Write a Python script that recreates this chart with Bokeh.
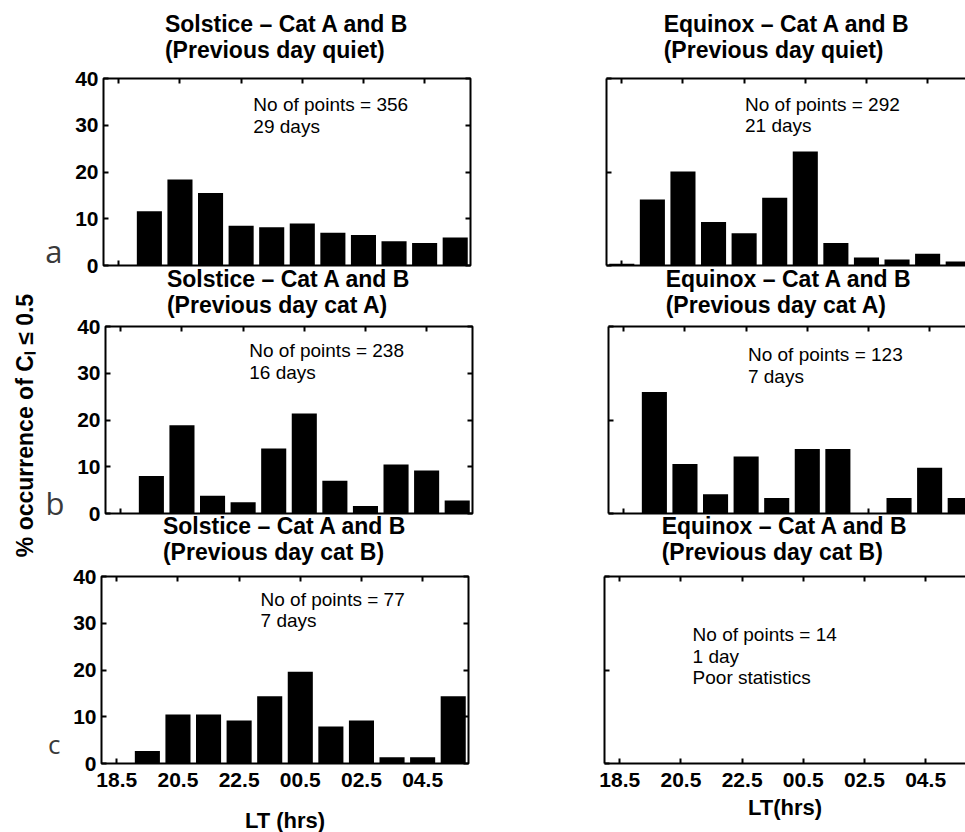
import math
from bokeh.plotting import figure
from bokeh.models import Range1d, FixedTicker, LinearAxis, Label, Title
from bokeh.layouts import row, column
from bokeh.embed import file_html
from bokeh.resources import INLINE
from bokeh.core.properties import value

# ---------------- data ----------------
lt_bins = [18.5, 19.5, 20.5, 21.5, 22.5, 23.5, 24.5, 25.5, 26.5, 27.5, 28.5, 29.5]
x_tick_values = [18.5, 20.5, 22.5, 24.5, 26.5, 28.5]
x_tick_labels = ["18.5", "20.5", "22.5", "00.5", "02.5", "04.5"]
y_tick_values = [0, 10, 20, 30, 40]

solstice_quiet = [0, 11.6, 18.4, 15.5, 8.5, 8.2, 9.0, 7.0, 6.5, 5.2, 4.8, 6.0]
solstice_cat_a = [0, 8.0, 18.9, 3.8, 2.4, 13.9, 21.4, 7.0, 1.6, 10.5, 9.2, 2.8]
solstice_cat_b = [0, 2.7, 10.5, 10.5, 9.2, 14.4, 19.6, 7.9, 9.2, 1.35, 1.35, 14.4]
equinox_quiet = [0.35, 14.1, 20.1, 9.3, 6.9, 14.5, 24.4, 4.8, 1.7, 1.3, 2.5, 0.85]
equinox_cat_a = [0, 26.0, 10.6, 4.1, 12.2, 3.3, 13.8, 13.8, 0, 3.3, 9.8, 3.3]
equinox_cat_b = [0, 0, 0, 0, 0, 0, 0, 0, 0, 0, 0, 0]

solstice_title = "Solstice \u2013 Cat A and B"
equinox_title = "Equinox \u2013 Cat A and B"
subtitles = ["(Previous day quiet)", "(Previous day cat A)", "(Previous day cat B)"]

notes_solstice = [["No of points = 356", "29 days"],
                  ["No of points = 238", "16 days"],
                  ["No of points = 77", "7 days"]]
notes_equinox = [["No of points = 292", "21 days"],
                 ["No of points = 123", "7 days"],
                 ["No of points = 14", "1 day", "Poor statistics"]]
panel_letters = ["a", "b", "c"]
y_label_text = "% occurrence of C\u2097 \u2264 0.5"
x_label_left = "LT (hrs)"
x_label_right = "LT(hrs)"

# ---------------- layout geometry ----------------
FONT = "Liberation Sans"
FRAME_H = 187
LEFT_FRAME_W = 367
PPU_X = LEFT_FRAME_W / 12.0
RIGHT_FRAME_W = 361
TITLE_BLOCK = 54          # approx. height of two-line title + top axis
SLACK = 6
PAGE_H = 832
frame_tops = [78, 326, 576]       # page y of each row's frame top
bottom_borders = [24, 24, 69]
title_standoffs = [31, 17, 24]

rows_geo = []
prev_bottom = 0
for r in range(3):
    top_border = TITLE_BLOCK + title_standoffs[r] + SLACK
    canvas_top = frame_tops[r] - top_border
    bb = bottom_borders[r] if r < 2 else PAGE_H - frame_tops[r] - FRAME_H
    rows_geo.append(dict(top=top_border, bottom=bb, margin=canvas_top - prev_bottom,
                         standoff=title_standoffs[r]))
    prev_bottom = frame_tops[r] + FRAME_H + bb

NOTE_SHIFT = 1.6
note_pos_left = [(22.9, 32.8), (22.7, 33.2), (23.2, 33.5)]
note_pos_right = [(22.53, 32.9), (22.56, 32.4), (20.88, 25.9)]
letter_pos = [(3.0, "31px"), (2.2, "31px"), (4.1, "26px")]


def style_axis(ax, ticks, show_labels, overrides=None):
    ax.ticker = FixedTicker(ticks=ticks)
    ax.major_tick_in = 5
    ax.major_tick_out = 0
    ax.minor_tick_in = 0
    ax.minor_tick_out = 0
    ax.major_tick_line_width = 2
    ax.major_tick_line_color = "black"
    ax.axis_line_color = None
    if show_labels:
        ax.major_label_text_font = FONT
        ax.major_label_text_font_style = "bold"
        ax.major_label_text_font_size = "21px"
        ax.major_label_text_color = "black"
        ax.major_label_standoff = 5
        if overrides:
            ax.major_label_overrides = overrides
    else:
        ax.major_label_text_font_size = "1px"
        ax.major_label_text_color = None
        ax.major_label_standoff = 0


def make_panel(values, title, subtitle, notes, note_pos, r, side):
    g = rows_geo[r]
    if side == "left":
        xr = Range1d(18, 30)
        fw = LEFT_FRAME_W
        mbl, mbr = 59, 68
    else:
        xr = Range1d(18, 18 + RIGHT_FRAME_W / PPU_X)
        fw = RIGHT_FRAME_W
        mbl, mbr = 68, 0
    p = figure(frame_width=fw, frame_height=FRAME_H, x_range=xr, y_range=Range1d(0, 40),
               x_axis_location=None, y_axis_location=None, toolbar_location=None,
               output_backend="svg", min_border_left=mbl, min_border_right=mbr,
               min_border_top=g["top"], min_border_bottom=g["bottom"])
    p.grid.visible = False
    p.background_fill_color = None
    p.border_fill_color = None

    p.title = Title(text=title + "\n" + subtitle, align="center", text_font=FONT,
                    text_font_style="bold", text_font_size="23px", text_color="black",
                    text_line_height=1.0, standoff=g["standoff"],
                    offset=0 if side == "left" else 3)

    p.vbar(x=lt_bins, top=values, bottom=0, width=0.82, fill_color="black", line_color=None)

    overrides = dict(zip(x_tick_values, x_tick_labels))
    below = LinearAxis()
    style_axis(below, x_tick_values, r == 2, overrides)
    above = LinearAxis()
    style_axis(above, x_tick_values, False)
    p.add_layout(below, "below")
    p.add_layout(above, "above")
    left = LinearAxis()
    if side == "left":
        style_axis(left, y_tick_values, True)
        right = LinearAxis()
        style_axis(right, y_tick_values, False)
        p.add_layout(right, "right")
        p.outline_line_color = "black"
        p.outline_line_width = 2
        p.outline_line_alpha = 1
    else:
        style_axis(left, [0, 20, 40], False)
        p.outline_line_color = None
        for ax in (left, below, above):
            ax.axis_line_color = "black"
            ax.axis_line_width = 2
    p.add_layout(left, "left")

    if side == "left":
        ly, fs = letter_pos[r]
        lax = LinearAxis(ticker=FixedTicker(ticks=[ly]),
                         major_label_overrides={ly: panel_letters[r]})
        lax.major_tick_in = 0
        lax.major_tick_out = 0
        lax.minor_tick_in = 0
        lax.minor_tick_out = 0
        lax.axis_line_color = None
        lax.major_tick_line_color = None
        lax.major_label_text_font = "Open Sans"
        lax.major_label_text_font_size = fs
        lax.major_label_text_color = "#3a3a3a"
        lax.major_label_standoff = 10
        p.add_layout(lax, "left")

    if r == 2:
        below.axis_label = x_label_left if side == "left" else x_label_right
        below.axis_label_text_font = FONT
        below.axis_label_text_font_style = "bold"
        below.axis_label_text_font_size = "22px"
        below.axis_label_text_color = "black"
        below.major_label_standoff = 9
        below.axis_label_standoff = 18 if side == "left" else 5

    nx, ny = note_pos
    p.text(x=[nx] * len(notes), y=[ny + NOTE_SHIFT - 4.6 * i for i in range(len(notes))], text=notes,
           text_font=value(FONT), text_font_size="19px", text_align="left",
           text_baseline="alphabetic", text_color="black")
    return p


sol_vals = [solstice_quiet, solstice_cat_a, solstice_cat_b]
eq_vals = [equinox_quiet, equinox_cat_a, equinox_cat_b]
rows = []
for r in range(3):
    pl = make_panel(sol_vals[r], solstice_title, subtitles[r], notes_solstice[r], note_pos_left[r], r, "left")
    pr = make_panel(eq_vals[r], equinox_title, subtitles[r], notes_equinox[r], note_pos_right[r], r, "right")
    m = rows_geo[r]["margin"]
    rows.append(row(pl, pr, margin=(m, 0, 0, 0)))

# y-axis label strip
py = figure(frame_width=42, frame_height=832, x_range=Range1d(0, 42), y_range=Range1d(0, 832),
            x_axis_location=None, y_axis_location=None, toolbar_location=None,
            output_backend="svg", min_border=0)
py.grid.visible = False
py.outline_line_color = None
py.background_fill_color = None
py.border_fill_color = None
py.add_layout(Label(x=24, y=832 - 425, text=y_label_text, angle=math.pi / 2,
                    text_font=FONT, text_font_style="bold", text_font_size="23px",
                    text_align="center", text_baseline="middle", text_color="black"))

layout = row(py, column(*rows))
open("out.html", "w").write(file_html(layout, INLINE))
